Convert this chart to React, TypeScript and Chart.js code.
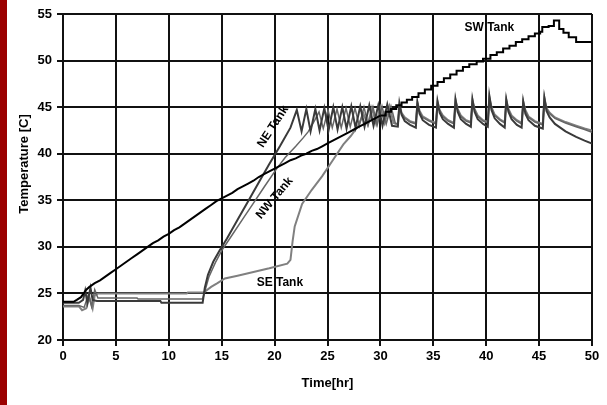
import { useEffect, useRef } from "react";
import { Chart, registerables } from "chart.js";
Chart.register(...registerables);

const FONT = '"Liberation Sans", Arial, Helvetica, sans-serif';

const xTicks = [0, 5, 10, 15, 20, 25, 30, 35, 40, 45, 50];
const yTicks = [20, 25, 30, 35, 40, 45, 50, 55];

// SW Tank, [time hr, temperature C]; early part reads as a fine-textured ramp
const swEarly: [number, number][] = [
  [0, 24.1], [0.5, 24.1], [1, 24.1], [1.3, 24.3], [1.7, 24.6], [2.2, 25.4], [2.5, 25.7], [3, 26.1], [3.5, 26.4], [4, 26.8], [4.5, 27.2],
  [5, 27.6], [5.5, 28.0], [6, 28.4], [6.5, 28.8], [7, 29.2], [7.5, 29.6], [8, 30.0], [8.5, 30.4], [9, 30.7], [9.5, 31.1],
  [10, 31.4], [10.5, 31.8], [11, 32.1], [11.5, 32.5], [12, 32.9], [12.5, 33.3], [13, 33.7], [13.5, 34.1], [14, 34.5], [14.5, 34.9],
  [15, 35.2], [15.5, 35.5], [16, 35.8], [16.5, 36.2], [17, 36.5], [17.5, 36.8], [18, 37.1], [18.5, 37.5], [19, 37.8], [19.5, 38.1],
  [20, 38.4], [20.5, 38.7], [21, 39.0], [21.5, 39.3], [22, 39.5], [22.5, 39.8], [23, 40.0], [23.5, 40.3], [24, 40.5], [24.5, 40.8],
  [25, 41.1], [25.5, 41.4], [26, 41.7], [26.5, 42.0], [27, 42.3], [27.5, 42.6], [28, 42.9], [28.5, 43.2], [29, 43.5], [29.5, 43.8],
  [30, 44.1],
];
// SW Tank late part, visibly stepped
const swLate: [number, number][] = [
  [30, 44.1], [30.5, 44.5], [31, 44.8], [31.5, 45.2], [32, 45.5], [32.5, 45.8], [33, 46.1], [33.6, 46.5], [34.2, 46.9], [34.8, 47.3],
  [35.4, 47.7], [36.0, 48.1], [36.6, 48.5], [37.2, 48.9], [37.8, 49.3], [38.4, 49.6], [39.1, 49.9], [39.7, 50.2], [40.4, 50.6],
  [41.0, 50.9], [41.6, 51.3], [42.2, 51.6], [42.8, 52.0], [43.4, 52.3], [44.0, 52.6], [44.6, 52.9], [45.1, 53.1], [45.3, 53.6],
  [45.9, 53.7], [46.4, 54.3], [46.9, 53.4], [47.3, 53.0], [47.8, 52.5], [48.5, 52.0], [50, 52.0],
];

const neSeries: [number, number][] = [
  [0, 24.0], [1.5, 24.0], [1.9, 24.3], [2.1, 25.3], [2.3, 24.0], [2.6, 25.6], [2.8, 24.3], [3.2, 24.2], [9.2, 24.2], [9.3, 24.0],
  [13.2, 24.0], [13.4, 25.6], [13.7, 27.0], [14.2, 28.4], [14.8, 29.6], [15.5, 30.9], [16.5, 32.9], [17.5, 34.9], [18.5, 36.9],
  [19.5, 38.9], [20.5, 40.8], [21.5, 42.8], [22.1, 44.7], [22.55, 42.4], [23.0, 44.8], [23.4, 42.4], [23.85, 44.8], [24.25, 42.5],
  [24.7, 44.9], [25.1, 42.5], [25.55, 45.0], [25.95, 42.6], [26.4, 45.0], [26.8, 42.7], [27.25, 45.1], [27.65, 42.8], [28.1, 45.1],
  [28.5, 42.9], [28.95, 45.2], [29.35, 43.0], [29.8, 45.2], [30.2, 43.0], [30.65, 45.3], [31.1, 43.0], [31.65, 42.9], [31.8, 45.4],
  [32.0, 44.2], [32.3, 43.5], [32.8, 43.1], [33.35, 42.8], [33.5, 45.5], [33.7, 44.3], [34.0, 43.6], [34.6, 43.1], [35.25, 42.8],
  [35.4, 45.6], [35.6, 44.4], [35.9, 43.7], [36.4, 43.2], [36.95, 42.8], [37.1, 45.8], [37.3, 44.5], [37.6, 43.7], [38.1, 43.2],
  [38.55, 42.9], [38.7, 45.8], [38.9, 44.5], [39.2, 43.7], [39.7, 43.2], [40.15, 42.9], [40.3, 46.2], [40.5, 44.7], [40.8, 43.8],
  [41.3, 43.2], [41.75, 42.8], [41.9, 45.8], [42.1, 44.5], [42.4, 43.7], [42.9, 43.1], [43.35, 42.8], [43.5, 45.6], [43.7, 44.3],
  [44.0, 43.6], [44.6, 43.0], [45.35, 42.7], [45.5, 46.0], [45.7, 44.6], [46.0, 43.9], [46.5, 43.2], [47.5, 42.4], [48.5, 41.8],
  [49.3, 41.4], [50, 41.1],
];

const nwSeries: [number, number][] = [
  [0, 23.7], [1.5, 23.7], [2.0, 23.5], [2.4, 24.9], [2.7, 23.6], [3.0, 25.4], [3.3, 24.5], [7.0, 24.5], [7.1, 24.4], [13.2, 24.4],
  [13.4, 25.2], [13.8, 26.8], [14.4, 28.3], [15.0, 29.6], [16, 31.3], [17, 33.0], [18, 34.7], [19, 36.4], [20.2, 38.4], [21, 39.6],
  [22, 40.8], [22.7, 41.7], [23.2, 42.4], [23.8, 43.6], [24.2, 44.5], [24.6, 42.7], [25.05, 44.7], [25.45, 42.8], [25.9, 44.8],
  [26.3, 42.8], [26.75, 44.9], [27.15, 42.9], [27.6, 44.9], [28.0, 43.0], [28.45, 45.0], [28.85, 43.1], [29.3, 45.0], [29.7, 43.1],
  [30.15, 45.1], [30.55, 43.2], [31.0, 45.1], [31.4, 43.3], [31.65, 43.2], [31.8, 45.2], [32.0, 44.3], [32.3, 43.8], [32.8, 43.4],
  [33.35, 43.2], [33.5, 45.4], [33.7, 44.5], [34.0, 43.9], [34.6, 43.5], [35.25, 43.2], [35.4, 45.5], [35.6, 44.6], [35.9, 44.0],
  [36.4, 43.5], [36.95, 43.2], [37.1, 45.7], [37.3, 44.7], [37.6, 44.0], [38.1, 43.5], [38.55, 43.3], [38.7, 45.7], [38.9, 44.7],
  [39.2, 44.0], [39.7, 43.5], [40.15, 43.3], [40.3, 46.0], [40.5, 44.9], [40.8, 44.1], [41.3, 43.6], [41.75, 43.3], [41.9, 45.7],
  [42.1, 44.7], [42.4, 44.0], [42.9, 43.5], [43.35, 43.2], [43.5, 45.5], [43.7, 44.6], [44.0, 43.9], [44.6, 43.4], [45.35, 43.1],
  [45.5, 45.9], [45.7, 44.8], [46.0, 44.3], [46.5, 43.8], [47.5, 43.3], [48.5, 42.9], [49.3, 42.6], [50, 42.3],
];

const seSeries: [number, number][] = [
  [0, 23.6], [1.5, 23.6], [1.8, 23.2], [2.2, 23.4], [2.5, 24.6], [2.8, 23.4], [3.0, 24.8], [3.3, 25.0], [11.7, 25.0], [11.8, 25.1],
  [13.3, 25.1], [14.0, 25.7], [14.6, 26.1], [15.3, 26.6], [16.5, 26.9], [18, 27.3], [19.5, 27.7], [21.2, 28.2], [21.5, 28.6],
  [21.7, 30.6], [21.9, 32.2], [22.6, 34.6], [23.5, 36.1], [24.5, 37.6], [25.5, 39.3], [26.5, 41.0], [27.2, 41.9], [27.9, 43.0],
  [28.4, 44.3], [28.8, 43.1], [29.2, 44.9], [29.6, 43.2], [30.0, 45.0], [30.4, 43.3], [30.85, 45.1], [31.25, 43.3], [31.65, 43.1],
  [31.8, 45.3], [32.0, 44.4], [32.3, 43.9], [32.8, 43.5], [33.35, 43.3], [33.5, 45.5], [33.7, 44.6], [34.0, 44.0], [34.6, 43.6],
  [35.25, 43.3], [35.4, 45.6], [35.6, 44.7], [35.9, 44.1], [36.4, 43.6], [36.95, 43.3], [37.1, 45.8], [37.3, 44.8], [37.6, 44.1],
  [38.1, 43.6], [38.55, 43.4], [38.7, 45.8], [38.9, 44.8], [39.2, 44.1], [39.7, 43.6], [40.15, 43.4], [40.3, 46.1], [40.5, 45.0],
  [40.8, 44.2], [41.3, 43.7], [41.75, 43.4], [41.9, 45.8], [42.1, 44.8], [42.4, 44.1], [42.9, 43.6], [43.35, 43.3], [43.5, 45.6],
  [43.7, 44.7], [44.0, 44.0], [44.6, 43.5], [45.35, 43.2], [45.5, 46.0], [45.7, 44.9], [46.0, 44.4], [46.5, 43.9], [47.5, 43.4],
  [48.5, 43.0], [49.3, 42.7], [50, 42.5],
];

const tankLabels = [
  { text: "SW Tank", t: 40.3, temp: 53.5, angle: 0 },
  { text: "NE Tank", t: 19.85, temp: 42.9, angle: -57 },
  { text: "NW Tank", t: 20.0, temp: 35.25, angle: -50 },
  { text: "SE Tank", t: 20.5, temp: 26.1, angle: 0 },
];

const yTitle = "Temperature [C]";
const xTitle = "Time[hr]";

const textPlugin = {
  id: "tankText",
  afterDatasetsDraw(chart: any) {
    const { ctx, scales } = chart;
    const xs = scales.x;
    const ys = scales.y;
    ctx.save();
    ctx.fillStyle = "#000";
    ctx.font = `bold 12px ${FONT}`;
    ctx.textAlign = "center";
    ctx.textBaseline = "middle";
    for (const l of tankLabels) {
      ctx.save();
      ctx.translate(xs.getPixelForValue(l.t), ys.getPixelForValue(l.temp));
      ctx.rotate((l.angle * Math.PI) / 180);
      ctx.fillText(l.text, 0, 0);
      ctx.restore();
    }
    ctx.save();
    ctx.font = `bold 13px ${FONT}`;
    ctx.textBaseline = "alphabetic";
    ctx.textAlign = "center";
    ctx.translate(27.5, (ys.top + ys.bottom) / 2 - 13);
    ctx.rotate(-Math.PI / 2);
    ctx.fillText(yTitle, 0, 0);
    ctx.restore();
    ctx.restore();
  },
};

const toXY = (arr: [number, number][]) => arr.map(([x, y]) => ({ x, y }));

export default function App() {
  const ref = useRef<HTMLCanvasElement>(null);
  useEffect(() => {
    document.body.style.margin = "0";
    Chart.defaults.font.family = FONT;
    const canvas = ref.current!;
    const gridCommon = {
      color: "#111",
      lineWidth: 2,
      tickLength: 6,
      tickColor: "#111",
    };
    const chart = new Chart(canvas, {
      type: "line",
      data: {
        datasets: [
          {
            label: "SW Tank",
            data: toXY(swEarly),
            borderColor: "#000",
            borderWidth: 2,
            pointRadius: 0,
            tension: 0,
          },
          {
            label: "SW Tank (late)",
            data: toXY(swLate),
            borderColor: "#000",
            borderWidth: 2,
            stepped: true,
            pointRadius: 0,
          },
          {
            label: "NE Tank",
            data: toXY(neSeries),
            borderColor: "#3a3a3a",
            borderWidth: 2,
            pointRadius: 0,
            tension: 0,
          },
          {
            label: "NW Tank",
            data: toXY(nwSeries),
            borderColor: "#666",
            borderWidth: 1.5,
            pointRadius: 0,
            tension: 0,
          },
          {
            label: "SE Tank",
            data: toXY(seSeries),
            borderColor: "#808080",
            borderWidth: 2,
            pointRadius: 0,
            tension: 0,
          },
        ],
      },
      options: {
        animation: false,
        responsive: false,
        devicePixelRatio: 1,
        layout: { padding: { left: 15, right: 15, top: 14, bottom: 12 } },
        plugins: { legend: { display: false }, tooltip: { enabled: false } },
        scales: {
          x: {
            type: "linear",
            min: 0,
            max: 50,
            afterBuildTicks: (s: any) => {
              s.ticks = xTicks.map((v) => ({ value: v }));
            },
            afterFit: (s: any) => {
              s.height = 53;
            },
            grid: gridCommon,
            border: { color: "#111", width: 2 },
            ticks: {
              autoSkip: false,
              maxRotation: 0,
              padding: 3,
              color: "#000",
              font: { size: 13, weight: "bold" },
            },
            title: {
              display: true,
              text: xTitle,
              color: "#000",
              font: { size: 13, weight: "bold" },
              padding: { top: 0, bottom: 2 },
            },
          },
          y: {
            type: "linear",
            min: 20,
            max: 55,
            afterBuildTicks: (s: any) => {
              s.ticks = yTicks.map((v) => ({ value: v }));
            },
            afterFit: (s: any) => {
              s.width = 48;
            },
            grid: gridCommon,
            border: { color: "#111", width: 2 },
            ticks: {
              padding: 5,
              color: "#000",
              font: { size: 13, weight: "bold" },
            },
          },
        },
      } as any,
      plugins: [textPlugin],
    });
    return () => chart.destroy();
  }, []);
  return (
    <div style={{ position: "relative", width: 607, height: 405, background: "#fff" }}>
      <canvas ref={ref} width={607} height={405} style={{ display: "block", width: 607, height: 405 }} />
      <div
        style={{ position: "absolute", left: 0, top: 0, width: 7, height: 405, background: "#9b0000" }}
      />
    </div>
  );
}
